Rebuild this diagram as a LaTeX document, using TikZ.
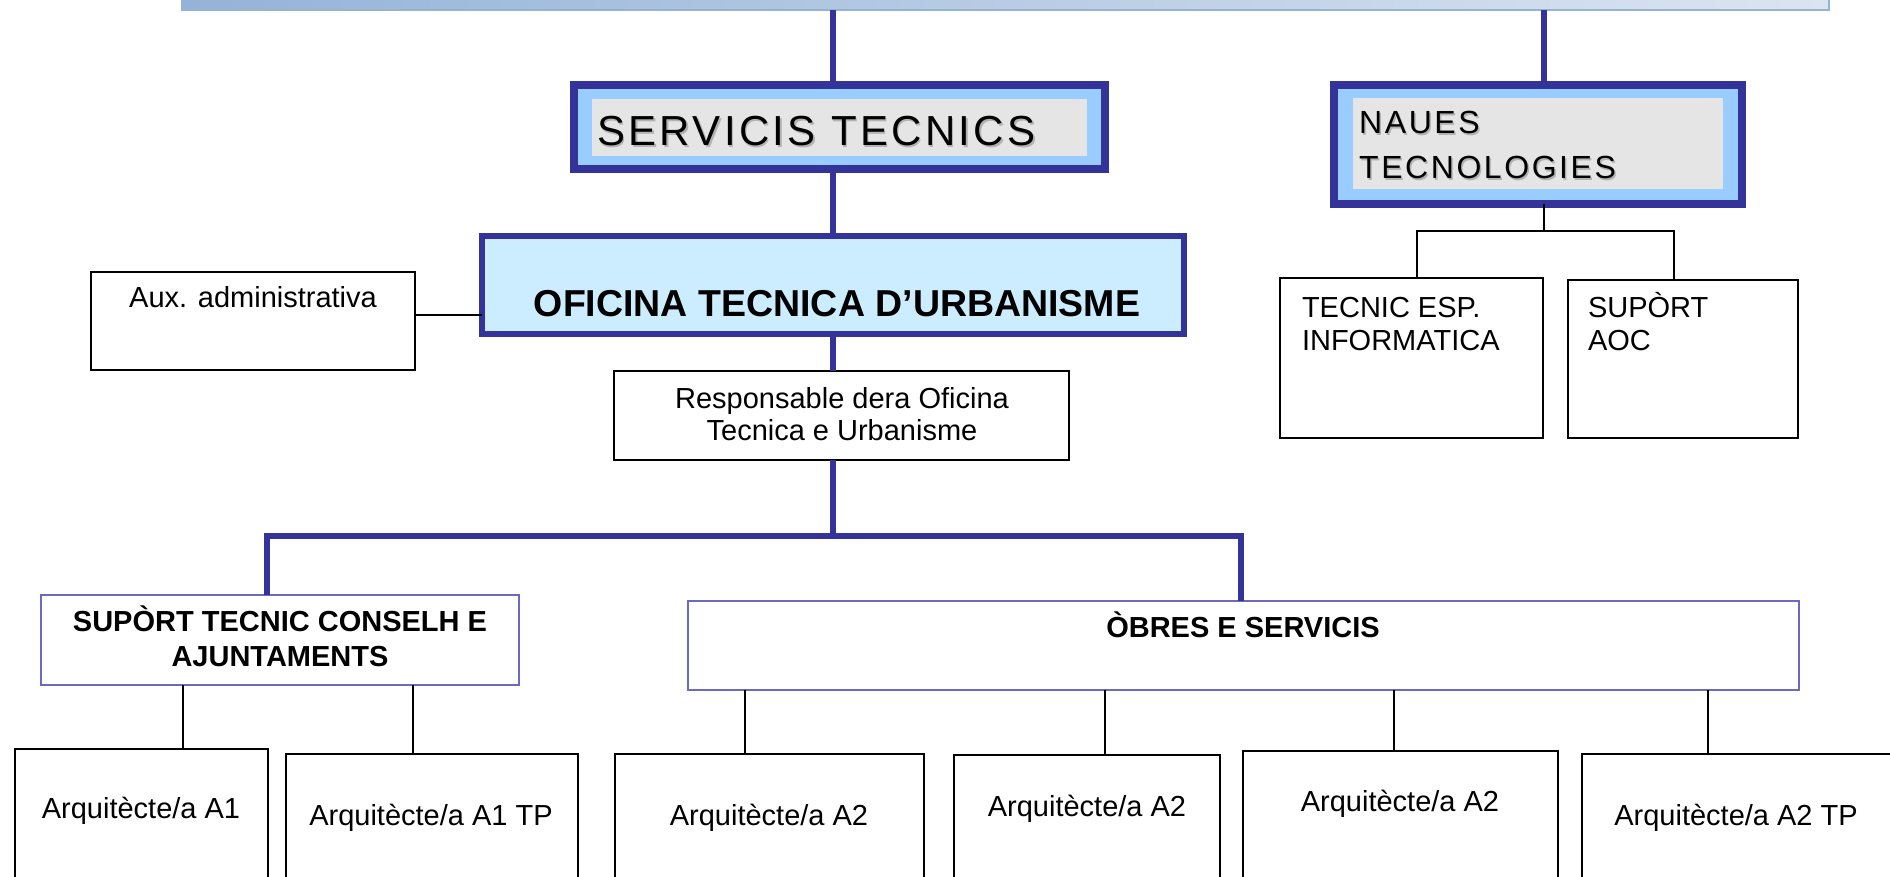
\documentclass[tikz,border=0pt]{standalone}
\usepackage{fontspec}
\setmainfont{Liberation Sans}
\newfontfamily\spacedfont[LetterSpace=8]{Liberation Sans}
\definecolor{dkblue}{HTML}{333399}
\definecolor{ltblue}{HTML}{99CCFF}
\definecolor{paleblue}{HTML}{CCECFF}
\definecolor{boxgray}{HTML}{E5E5E5}
\definecolor{midblue}{HTML}{6A6ABF}
\definecolor{barleft}{HTML}{95B3D7}
\definecolor{barright}{HTML}{DBE5F1}
\begin{document}
\begin{tikzpicture}[x=1pt,y=-1pt,
  base/.style={inner sep=0pt, outer sep=0pt, anchor=north west},
  box/.style={base, draw=black, line width=2pt, fill=white},
  subbox/.style={base, draw=midblue, line width=2pt, fill=white},
  titlebox/.style={base, draw=dkblue, line width=8pt, fill=ltblue},
  graybox/.style={base, fill=boxgray},
  bluelink/.style={draw=dkblue, line width=5.5pt},
  thinlink/.style={draw=black, line width=2pt},
  txt/.style={inner sep=0pt, outer sep=0pt, anchor=base, font=\fontsize{29}{34}\selectfont},
  txtl/.style={txt, anchor=base west},
  btxt/.style={txt, font=\fontsize{29}{34}\selectfont\bfseries},
  ttl/.style={inner sep=0pt, anchor=base west},
]
\useasboundingbox (0,0) rectangle (1890,877);
\clip (0,0) rectangle (1890,877);
\fill[white] (0,0) rectangle (1890,877);

% top bar
\node[base, anchor=south west, minimum width=1647pt, minimum height=20pt,
      left color=barleft, right color=barright, draw=barleft, line width=2pt] (bar) at (182,10) {};

% title boxes
\node[titlebox, minimum width=531.5pt, minimum height=84pt] (servicis) at (573.5,85) {};
\node[graybox, minimum width=494.8pt, minimum height=57pt] (servicisin) at (591.7,99) {};
\node[ttl, text=gray!60] at (598.5,147.5) {\fontsize{42}{48}\spacedfont SERVICIS TECNICS};
\node[ttl] (servicistxt) at (597,146) {\fontsize{42}{48}\spacedfont SERVICIS TECNICS};

\node[titlebox, minimum width=408pt, minimum height=119pt] (naues) at (1334,85) {};
\node[graybox, minimum width=370pt, minimum height=91pt] (nauesin) at (1353,98) {};
\node[ttl, text=gray!60] at (1360.5,135.5) {\fontsize{32}{40}\spacedfont NAUES};
\node[ttl, text=gray!60] at (1360.5,180.2) {\fontsize{32}{40}\spacedfont TECNOLOGIES};
\node[ttl] (nauestxt1) at (1359,134) {\fontsize{32}{40}\spacedfont NAUES};
\node[ttl] (nauestxt2) at (1359,178.7) {\fontsize{32}{40}\spacedfont TECNOLOGIES};

% oficina
\node[base, draw=dkblue, line width=6pt, fill=paleblue, minimum width=702pt, minimum height=98.6pt] (oficina) at (482,235.7) {};
\node[txt, font=\fontsize{37.5}{42}\selectfont\bfseries] (oficinatxt) at (837,316.7) {OFICINA TECNICA D’URBANISME};

% aux
\node[box, minimum width=324pt, minimum height=98pt] (aux) at (91,272) {};
\node[txt] (auxtxt) at (253,308) {Aux. administrativa};

% responsable
\node[box, minimum width=455pt, minimum height=89pt] (resp) at (614,371) {};
\node[txt] (resptxt1) at (842,408.3) {Responsable dera Oficina};
\node[txt] (resptxt2) at (842,440.7) {Tecnica e Urbanisme};

% naues children
\node[box, minimum width=263pt, minimum height=160pt] (tecnic) at (1280,278) {};
\node[txtl] (tecnictxt1) at (1302,317) {TECNIC ESP.};
\node[txtl] (tecnictxt2) at (1302,350) {INFORMATICA};
\node[box, minimum width=230pt, minimum height=158pt] (aoc) at (1568,280) {};
\node[txtl] (aoctxt1) at (1588,317) {SUPÒRT};
\node[txtl] (aoctxt2) at (1588,350) {AOC};

% second level
\node[subbox, minimum width=478.4pt, minimum height=90pt] (suport) at (40.6,595) {};
\node[btxt] (suporttxt1) at (280,631.7) {SUPÒRT TECNIC CONSELH E};
\node[btxt] (suporttxt2) at (280,666) {AJUNTAMENTS};
\node[subbox, minimum width=1111pt, minimum height=89pt] (obres) at (688,601) {};
\node[btxt] (obrestxt) at (1243,637) {ÒBRES E SERVICIS};

% bottom boxes
\node[box, minimum width=253pt, minimum height=200pt] (a1) at (14.5,748.7) {};
\node[txt] (a1txt) at (141,818) {Arquitècte/a A1};
\node[box, minimum width=292pt, minimum height=200pt] (a1tp) at (286,754) {};
\node[txt] (a1tptxt) at (431,825) {Arquitècte/a A1 TP};
\node[box, minimum width=309pt, minimum height=200pt] (a2a) at (615,754) {};
\node[txt] (a2atxt) at (769,825) {Arquitècte/a A2};
\node[box, minimum width=266pt, minimum height=200pt] (a2b) at (954,755) {};
\node[txt] (a2btxt) at (1087,816.7) {Arquitècte/a A2};
\node[box, minimum width=315pt, minimum height=200pt] (a2c) at (1242.5,751) {};
\node[txt] (a2ctxt) at (1400,811.7) {Arquitècte/a A2};
\node[box, minimum width=400pt, minimum height=200pt] (a2tp) at (1582,754) {};
\node[txt] (a2tptxt) at (1736,825.7) {Arquitècte/a A2 TP};

% helper coordinates
\coordinate (s1) at (833,0);
\coordinate (n1) at (1544,0);
\coordinate (hb) at (0,536);
\coordinate (hl) at (267,536);
\coordinate (hr) at (1241,536);
\coordinate (nh) at (0,231);
\coordinate (tl) at (1417,231);
\coordinate (tr) at (1674,231);
\coordinate (ay) at (0,315);
\coordinate (d1) at (183,0);
\coordinate (d2) at (413,0);
\coordinate (d3) at (745,0);
\coordinate (d4) at (1105,0);
\coordinate (d5) at (1394,0);
\coordinate (d6) at (1708,0);

% blue connectors
\draw[bluelink] (s1|-bar.south) -- (s1|-servicis.north);
\draw[bluelink] (s1|-servicis.south) -- (s1|-oficina.north);
\draw[bluelink] (s1|-oficina.south) -- (s1|-resp.north);
\draw[bluelink] (s1|-resp.south) -- (s1|-hb);
\draw[bluelink] (hl|-suport.north) -- (hl) -- (hr) -- (hr|-obres.north);
\draw[bluelink] (n1|-bar.south) -- (n1|-naues.north);

% thin connectors
\draw[thinlink] (n1|-naues.south) -- (n1|-nh);
\draw[thinlink] (tl|-tecnic.north) -- (tl) -- (tr) -- (tr|-aoc.north);
\draw[thinlink] (aux.east|-ay) -- (oficina.west|-ay);
\draw[thinlink] (d1|-suport.south) -- (d1|-a1.north);
\draw[thinlink] (d2|-suport.south) -- (d2|-a1tp.north);
\draw[thinlink] (d3|-obres.south) -- (d3|-a2a.north);
\draw[thinlink] (d4|-obres.south) -- (d4|-a2b.north);
\draw[thinlink] (d5|-obres.south) -- (d5|-a2c.north);
\draw[thinlink] (d6|-obres.south) -- (d6|-a2tp.north);
\end{tikzpicture}
\end{document}
